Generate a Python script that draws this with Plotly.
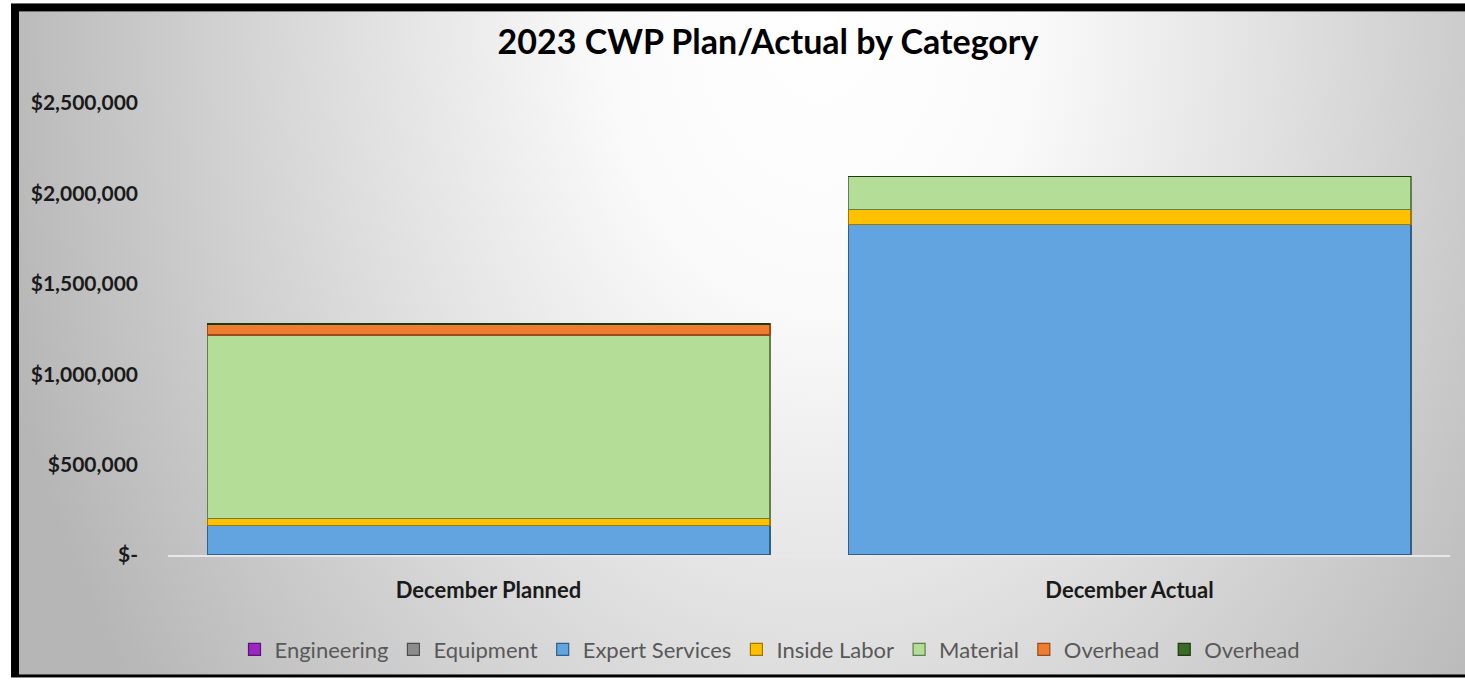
import base64
import plotly.graph_objects as go

# Spending by category, December 2023
categories = ["December Planned", "December Actual"]
engineering = [5000, 0]
equipment = [0, 0]
expert_services = [160000, 1828000]
inside_labor = [39000, 83000]
material = [1013000, 182000]
overhead_a = [61000, 0]
overhead_b = [0, 0]

tick_values = [0, 500000, 1000000, 1500000, 2000000, 2500000]
tick_labels = ["$-", "$500,000", "$1,000,000", "$1,500,000", "$2,000,000", "$2,500,000"]

series = [
    ("Engineering", engineering, "#9b26c2", "#5a1474"),
    ("Equipment", equipment, "#8c8c8c", "#4d4d4d"),
    ("Expert Services", expert_services, "#62a4e0", "#2f5f8a"),
    ("Inside Labor", inside_labor, "#ffc000", "#a07800"),
    ("Material", material, "#b4dd98", "#5f7f4c"),
    ("Overhead", overhead_a, "#ed7d31", "#9a4a17"),
    ("Overhead", overhead_b, "#3a6a26", "#1e3a12"),
]

W, H = 1465, 682
ML, MR, MT, MB = 168, 15, 103, 125
PW, PH = W - ML - MR, H - MT - MB

# Framed card with a soft grey radial wash behind the chart
svg = f"""<svg xmlns='http://www.w3.org/2000/svg' width='{W}' height='{H}' viewBox='0 0 {W} {H}' preserveAspectRatio='none'>
<defs>
<radialGradient id='g' gradientUnits='userSpaceOnUse' cx='0' cy='0' r='1'
 gradientTransform='translate(820,20) scale(850,1150)'>
<stop offset='0' stop-color='#ffffff'/>
<stop offset='0.25' stop-color='#fafafa'/>
<stop offset='0.5' stop-color='#e4e4e4'/>
<stop offset='0.75' stop-color='#cdcdcd'/>
<stop offset='1' stop-color='#b6b6b6'/>
</radialGradient>
</defs>
<rect x='0' y='0' width='{W}' height='{H}' fill='#ffffff'/>
<rect x='11' y='3' width='{W - 11}' height='677' fill='#000000'/>
<rect x='19' y='11' width='{W - 19}' height='666' fill='url(#g)'/>
</svg>"""
bg_uri = "data:image/svg+xml;base64," + base64.b64encode(svg.encode()).decode()

fig = go.Figure()
for name, vals, color, edge in series:
    fig.add_trace(go.Bar(
        name=name,
        x=categories,
        y=vals,
        marker=dict(color=color, line=dict(color=edge, width=1.2)),
    ))

font_family = "Lato, 'Open Sans', sans-serif"

fig.update_layout(
    width=W,
    height=H,
    barmode="stack",
    bargap=0.122,
    margin=dict(l=ML, r=MR, t=MT, b=MB, pad=0),
    paper_bgcolor="#ffffff",
    plot_bgcolor="rgba(0,0,0,0)",
    font=dict(family=font_family, color="#1a1a1a"),
    title=dict(
        text="<b>2023 CWP Plan/Actual by Category</b>",
        x=768 / W,
        xanchor="center",
        y=1 - 42 / H,
        yanchor="middle",
        font=dict(size=34, color="#000000", family=font_family),
    ),
    xaxis=dict(
        showgrid=False,
        showline=True,
        linecolor="#e8e8e8",
        linewidth=1.5,
        ticks="",
        tickvals=categories,
        ticktext=[f"<b>{c}</b>" for c in categories],
        tickfont=dict(size=22, color="#1a1a1a", family=font_family),
        ticklabelstandoff=15,
    ),
    yaxis=dict(
        range=[0, 2500000],
        tickvals=tick_values,
        ticktext=[f"<b>{t}</b>" for t in tick_labels],
        showgrid=False,
        zeroline=False,
        showline=False,
        ticks="",
        tickfont=dict(size=21, color="#1a1a1a", family=font_family),
        ticklabelstandoff=29,
    ),
    legend=dict(
        orientation="h",
        traceorder="normal",
        x=(770 - ML) / PW,
        xanchor="center",
        y=(557 - 652) / PH,
        yanchor="middle",
        font=dict(size=22, color="#595959", family=font_family),
        bgcolor="rgba(0,0,0,0)",
        itemclick=False,
    ),
    images=[dict(
        source=bg_uri,
        xref="paper",
        yref="paper",
        x=-ML / PW,
        y=1 + MT / PH,
        sizex=W / PW,
        sizey=H / PH,
        xanchor="left",
        yanchor="top",
        sizing="stretch",
        layer="below",
    )],
)

fig.write_html("out.html")
